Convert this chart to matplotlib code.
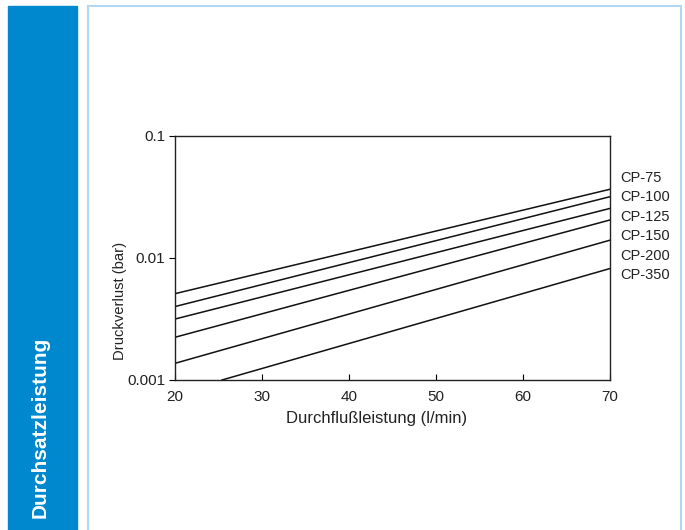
import matplotlib.pyplot as plt
from matplotlib.patches import Rectangle

plt.rcParams['font.family'] = ['Liberation Sans', 'DejaVu Sans']

# start and end points of each straight line (semi-log)
models = ['CP-75', 'CP-100', 'CP-125', 'CP-150', 'CP-200', 'CP-350']
flow_start = [20, 20, 20, 20, 20, 25.4]
flow_end = [70, 70, 70, 70, 70, 70]
loss_start = [0.0051, 0.0040, 0.00316, 0.00224, 0.00137, 0.001]
loss_end = [0.0366, 0.0318, 0.0255, 0.0205, 0.0140, 0.0082]

xticks = [20, 30, 40, 50, 60, 70]
yticks = [0.001, 0.01, 0.1]
yticklabels = ['0.001', '0.01', '0.1']

fig = plt.figure(figsize=(6.85, 5.3), dpi=100)

# blue side bar with vertical title
fig.patches.append(Rectangle((8 / 685, 0), 69 / 685, 1 - 6 / 530,
                             transform=fig.transFigure, color='#0088cf', zorder=0))
fig.text(40 / 685, 1 - 518 / 530, 'Durchsatzleistung', rotation=90,
         color='white', fontsize=15, fontweight='bold',
         ha='center', va='bottom')

# light blue frame (top, left, right)
frame = '#b3d6f2'
fig.add_artist(plt.Line2D([88 / 685, 88 / 685], [0, 1 - 6 / 530], color=frame, lw=1.5,
                          transform=fig.transFigure))
fig.add_artist(plt.Line2D([88 / 685, 681 / 685], [1 - 6 / 530, 1 - 6 / 530], color=frame,
                          lw=1.5, transform=fig.transFigure))
fig.add_artist(plt.Line2D([681 / 685, 681 / 685], [0, 1 - 6 / 530], color=frame, lw=1.5,
                          transform=fig.transFigure))

ax = fig.add_axes([175 / 685, 1 - 380 / 530, 435 / 685, 244 / 530])
for i in range(len(models)):
    ax.plot([flow_start[i], flow_end[i]], [loss_start[i], loss_end[i]],
            color='#111111', lw=1.1)

ax.set_yscale('log')
ax.set_xlim(20, 70)
ax.set_ylim(0.001, 0.1)
ax.set_xticks(xticks)
ax.set_yticks(yticks)
ax.set_yticklabels(yticklabels)
ax.minorticks_off()
ax.tick_params(axis='x', direction='in', length=4, labelsize=11, pad=7,
               labelcolor='#222222')
ax.tick_params(axis='y', direction='out', length=4, labelsize=11, pad=3,
               labelcolor='#222222')
for s in ax.spines.values():
    s.set_linewidth(1.0)
    s.set_color('#222222')

# model labels to the right of the plot
for i in range(len(models)):
    fig.text(620 / 685, 1 - (178 + 19.4 * i) / 530, models[i], fontsize=10.5,
             ha='left', va='center', color='#222222')

fig.text(120 / 685, 1 - 301 / 530, 'Druckverlust (bar)', rotation=90, fontsize=10.6,
         ha='center', va='center', color='#222222')
fig.text(377 / 685, 1 - 419 / 530, 'Durchflußleistung (l/min)', fontsize=12,
         ha='center', va='center', color='#222222')

fig.savefig('out.png', dpi=100)
